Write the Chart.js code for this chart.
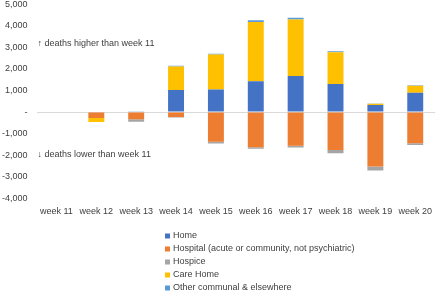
<!DOCTYPE html>
<html>
<head>
<meta charset="utf-8">
<script src="https://cdn.jsdelivr.net/npm/chart.js@4/dist/chart.umd.min.js"></script>
<style>
  html, body { margin: 0; padding: 0; background: #fff; overflow: hidden; }
  #wrap { position: relative; width: 440px; height: 295px; overflow: hidden; }
  #c { position: absolute; left: 0; top: -10px; }
</style>
</head>
<body>
<div id="wrap"><canvas id="c" width="440" height="305"></canvas></div>
<script>
const weeks = ['week 11','week 12','week 13','week 14','week 15','week 16','week 17','week 18','week 19','week 20'];
const home      = [0,    0,    0, 1020, 1050, 1435, 1670, 1300,   325,   895];
const hospital  = [0, -280, -330, -230, -1375, -1630, -1570, -1760, -2530, -1450];
const hospice   = [0,    0, -120,  -20,   -85,   -70,   -70,  -150,  -180,   -80];
const careHome  = [0, -180,    0, 1100,  1620,  2745,  2630,  1480,    60,   330];
const other     = [0,    0,   40,   30,    40,    80,    80,    40,    15,    25];
const seriesNames = ['Home','Hospital (acute or community, not psychiatric)','Hospice','Care Home','Other communal & elsewhere'];
const seriesColors = ['#4472C4','#ED7D31','#A5A5A5','#FFC000','#5B9BD5'];
const yTicks = [5000,4000,3000,2000,1000,0,-1000,-2000,-3000,-4000];
const notes = ['\u2191 deaths higher than week 11','\u2193 deaths lower than week 11'];
const noteValues = [3200,-1950];

const FONT = '"Liberation Sans", Arial, sans-serif';
const TXT = '#404040';

const annotPlugin = {
  id: 'annot',
  afterDatasetsDraw(chart) {
    const ctx = chart.ctx, y = chart.scales.y, x = chart.scales.x;
    ctx.save();
    ctx.font = '9px ' + FONT;
    ctx.fillStyle = TXT;
    ctx.textBaseline = 'middle';
    ctx.textAlign = 'left';
    notes.forEach((t, i) => ctx.fillText(t, x.left + 1, y.getPixelForValue(noteValues[i])));
    // legend (vertical)
    const lx = 165, ly0 = 246, step = 13;
    chart.data.datasets.forEach((ds, i) => {
      const yy = ly0 + i * step;
      ctx.fillStyle = ds.backgroundColor;
      ctx.fillRect(lx, yy - 2.5, 5, 5);
      ctx.fillStyle = TXT;
      ctx.fillText(ds.label, lx + 8, yy);
    });
    ctx.restore();
  }
};

const dataArrays = [home, hospital, hospice, careHome, other];
new Chart(document.getElementById('c'), {
  type: 'bar',
  data: {
    labels: weeks,
    datasets: dataArrays.map((d, i) => ({
      label: seriesNames[i],
      data: d,
      backgroundColor: seriesColors[i],
      borderWidth: 0,
      categoryPercentage: 1,
      barPercentage: 0.4
    }))
  },
  options: {
    responsive: false,
    animation: false,
    layout: { padding: { top: -10, right: 0, bottom: 70, left: -7 } },
    plugins: { legend: { display: false }, tooltip: { enabled: false } },
    scales: {
      x: {
        stacked: true,
        grid: { display: false, drawTicks: false },
        border: { display: false },
        ticks: { color: TXT, font: { family: FONT, size: 9 }, padding: 8, maxRotation: 0 }
      },
      y: {
        stacked: true,
        min: -4000, max: 5000,
        afterBuildTicks(axis) { axis.ticks = yTicks.map(v => ({ value: v })); },
        grid: {
          drawTicks: false,
          color: ctx => ctx.tick && ctx.tick.value === 0 ? '#D9D9D9' : 'rgba(0,0,0,0)'
        },
        border: { display: false },
        ticks: {
          color: TXT, font: { family: FONT, size: 9 }, padding: 9,
          callback: v => v === 0 ? '-' : v.toLocaleString('en-US')
        }
      }
    }
  },
  plugins: [annotPlugin]
});
</script>
</body>
</html>
